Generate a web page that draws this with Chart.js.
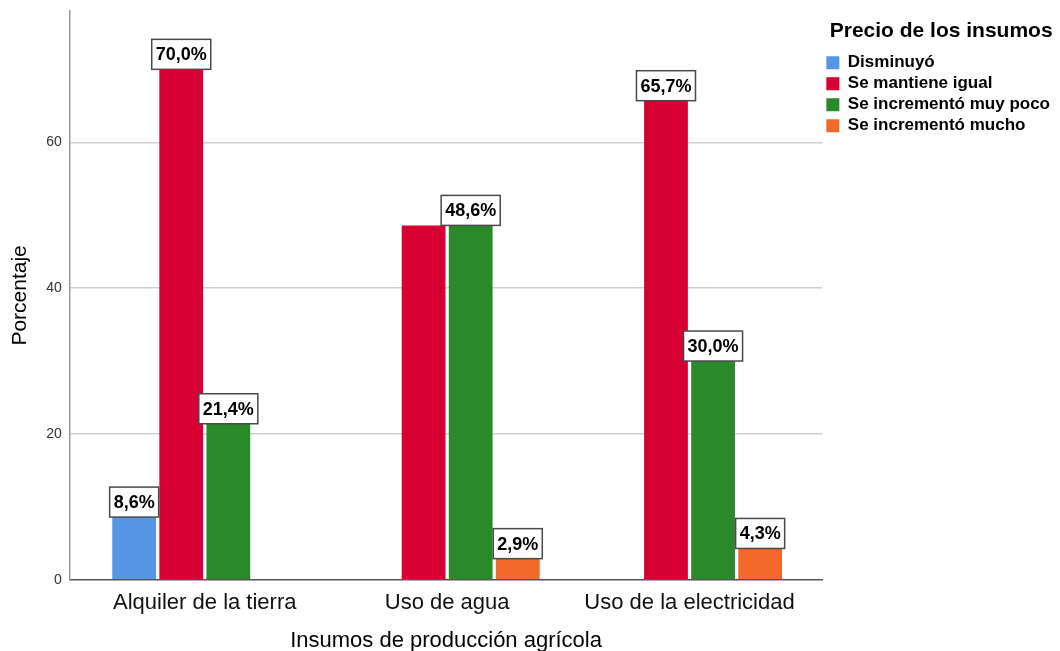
<!DOCTYPE html>
<html>
<head>
<meta charset="utf-8">
<script src="https://cdn.jsdelivr.net/npm/chart.js@4.4.1/dist/chart.umd.min.js"></script>
<style>
  html, body { margin: 0; padding: 0; background: #fff; }
  #wrap { width: 1060px; height: 651px; }
</style>
</head>
<body>
<div id="wrap"><canvas id="chart"></canvas></div>
<script>
// categories on the x axis
const categories = ["Alquiler de la tierra", "Uso de agua", "Uso de la electricidad"];
// legend entries
const seriesNames = ["Disminuyó", "Se mantiene igual", "Se incrementó muy poco", "Se incrementó mucho"];
// percentages per category (null = no bar)
const disminuyo = [8.6, null, null];
const seMantiene = [70.0, 48.6, 65.7];
const incMuyPoco = [21.4, 48.6, 30.0];
const incMucho = [null, 2.9, 4.3];
const yTicks = [0, 20, 40, 60];

const seriesValues = [disminuyo, seMantiene, incMuyPoco, incMucho];
const colors = ["#5596e6", "#d60032", "#2a8a2a", "#f2692b"];

Chart.defaults.font.family = '"Liberation Sans", Arial, sans-serif';

//labels in white boxes above the bars, skip the ones that would overlap
const boxLabels = {
  id: "boxLabels",
  afterDatasetsDraw(chart) {
    const ctx = chart.ctx;
    const placed = [];
    ctx.save();
    ctx.font = 'bold 18px "Liberation Sans", Arial, sans-serif';
    for (let d = chart.data.datasets.length - 1; d >= 0; d--) {
      const meta = chart.getDatasetMeta(d);
      meta.data.forEach((bar, i) => {
        const v = chart.data.datasets[d].data[i].y;
        if (v == null) return;
        const text = v.toFixed(1).replace(".", ",") + "%";
        const w = ctx.measureText(text).width + 8;
        const h = 30;
        const x0 = bar.x - w / 2;
        const y0 = bar.y - h;
        const hit = placed.some(r => x0 < r.x1 && x0 + w > r.x0 && y0 < r.y1 && y0 + h > r.y0);
        if (hit) return;
        placed.push({ x0: x0, y0: y0, x1: x0 + w, y1: y0 + h });
        ctx.fillStyle = "#fff";
        ctx.fillRect(x0, y0, w, h);
        ctx.strokeStyle = "#4a4a4a";
        ctx.lineWidth = 1.5;
        ctx.strokeRect(x0, y0, w, h);
        ctx.fillStyle = "#000";
        ctx.textAlign = "center";
        ctx.textBaseline = "middle";
        ctx.fillText(text, bar.x, y0 + h / 2 + 1);
      });
    }
    ctx.restore();
  }
};

const datasets = seriesNames.map((name, s) => ({
  label: name,
  backgroundColor: colors[s],
  borderWidth: 0,
  data: seriesValues[s].map((v, i) => ({ x: i, y: v })),
  categoryPercentage: 0.777,
  barPercentage: 0.93
}));

new Chart(document.getElementById("chart"), {
  type: "bar",
  plugins: [boxLabels],
  data: { datasets: datasets },
  options: {
    responsive: true,
    maintainAspectRatio: false,
    animation: false,
    layout: { padding: { top: 11, right: 0, bottom: 0, left: 6 } },
    plugins: {
      tooltip: { enabled: false },
      legend: {
        position: "right",
        align: "start",
        title: {
          display: true,
          text: "Precio de los insumos",
          color: "#000",
          font: { size: 21, weight: "bold" },
          padding: { top: 10, bottom: 4 }
        },
        labels: {
          color: "#000",
          boxWidth: 13,
          boxHeight: 13,
          padding: 4,
          font: { size: 17, weight: "bold" }
        }
      }
    },
    scales: {
      x: {
        type: "linear",
        min: -0.557,
        max: 2.548,
        offset: false,
        grid: { display: false, offset: false, drawTicks: false },
        border: { display: true, color: "#555", width: 1.5 },
        afterBuildTicks: (s) => { s.ticks = categories.map((c, i) => ({ value: i })); },
        ticks: {
          autoSkip: false,
          maxRotation: 0,
          color: "#111",
          padding: 10,
          font: { size: 22 },
          callback: (v) => categories[v]
        },
        title: {
          display: true,
          text: "Insumos de producción agrícola",
          color: "#000",
          font: { size: 22, lineHeight: 0.9 },
          padding: { top: 5, bottom: 0 }
        }
      },
      y: {
        min: 0,
        max: 78,
        afterBuildTicks: (s) => { s.ticks = yTicks.map(v => ({ value: v })); },
        afterFit: (s) => { s.paddingTop = 0; s.paddingBottom = 0; },
        grid: {
          color: (c) => (c.tick && c.tick.value === 0 ? "rgba(0,0,0,0)" : "#cfcfcf"),
          lineWidth: 1.5,
          drawTicks: false
        },
        border: { display: true, color: "#9a9a9a", width: 1.5 },
        ticks: { color: "#333", padding: 8, font: { size: 14 } },
        title: {
          display: true,
          text: "Porcentaje",
          color: "#000",
          font: { size: 21 },
          padding: { top: 2, bottom: 5 }
        }
      }
    }
  }
});
</script>
</body>
</html>
